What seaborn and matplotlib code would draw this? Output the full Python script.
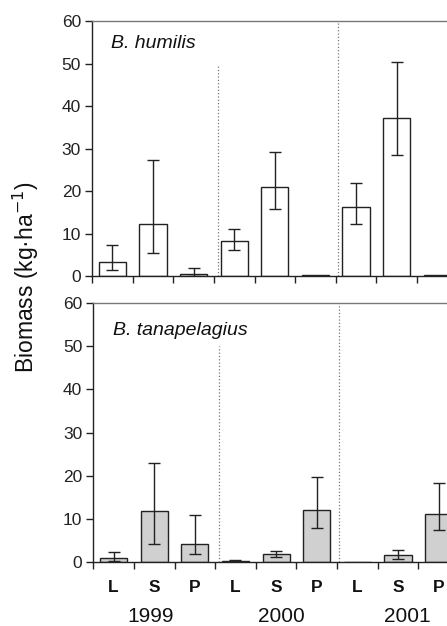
import matplotlib
matplotlib.use("Agg")
import matplotlib.pyplot as plt
import matplotlib.transforms as mtransforms
import numpy as np
import pandas as pd
import seaborn as sns

# data (kg/ha), order: L S P for 1999, 2000, 2001
groups = ["L", "S", "P"]
years = ["1999", "2000", "2001"]

humilis_mean = [3.3, 12.3, 0.6, 8.2, 21.0, 0.2, 16.3, 37.3, 0.2]
humilis_upper = [7.4, 27.4, 1.9, 11.1, 29.1, 0.2, 21.9, 50.4, 0.2]
humilis_lower = [1.5, 5.5, 0.0, 6.1, 15.7, 0.2, 12.2, 28.6, 0.2]

tana_mean = [0.9, 11.8, 4.3, 0.3, 1.8, 12.0, 0.1, 1.6, 11.1]
tana_upper = [2.3, 22.9, 10.9, 0.4, 2.6, 19.8, 0.1, 2.8, 18.3]
tana_lower = [0.3, 4.3, 2.0, 0.2, 1.3, 8.0, 0.1, 0.7, 7.4]

sns.set_theme(style="ticks")
plt.rcParams['font.family'] = ['Liberation Sans', 'DejaVu Sans']

fig = plt.figure(figsize=(4.47, 6.26), dpi=100)
ax_top = fig.add_axes([0.2058, 0.559, 0.818, 0.407])
ax_bot = fig.add_axes([0.2087, 0.102, 0.818, 0.414])

labels = [f"{g}{y}" for y in years for g in groups]


def draw_panel(ax, mean, lower, upper, color, title, title_y, show_labels):
    df = pd.DataFrame({"cat": labels, "val": mean})
    sns.barplot(data=df, x="cat", y="val", order=labels, color=color,
                edgecolor="#222222", linewidth=1.0, width=0.67,
                errorbar=None, saturation=1, ax=ax)
    m = np.array(mean)
    yerr = [m - np.array(lower), np.array(upper) - m]
    has_err = (yerr[0] + yerr[1]) > 0.05
    xs = np.arange(len(mean))
    ax.errorbar(xs[has_err], m[has_err],
                yerr=[yerr[0][has_err], yerr[1][has_err]],
                fmt="none", ecolor="#222222", elinewidth=1.0, capsize=4, capthick=1.0)

    ax.set_xlim(-0.5, 8.5)
    ax.set_ylim(0, 60)
    ax.set_yticks([0, 10, 20, 30, 40, 50, 60])
    ax.tick_params(axis="y", labelsize=12.5, length=5, width=1, colors="#222222", pad=3)
    ax.set_xticks(np.arange(-0.5, 8.5, 1.0))
    ax.set_xticklabels([])
    ax.tick_params(axis="x", length=5, width=1, colors="#222222")
    ax.set_xlabel("")
    ax.set_ylabel("")

    # dotted separators between years
    ax.plot([2.6, 2.6], [0, 50], ls=":", color="#777777", lw=0.9)
    ax.plot([5.56, 5.56], [0, 60], ls=":", color="#777777", lw=0.9)

    for side in ["left", "bottom"]:
        ax.spines[side].set_color("#222222")
        ax.spines[side].set_linewidth(1.0)
    ax.spines["top"].set_color("#777777")
    ax.spines["top"].set_linewidth(1.0)
    ax.spines["right"].set_visible(False)

    ax.text(0.053, title_y, title, transform=ax.transAxes, fontsize=14,
            style="italic", ha="left", va="baseline", color="#111111")

    if show_labels:
        trans = mtransforms.blended_transform_factory(ax.transData, ax.transAxes)
        for i, lab in enumerate(labels):
            ax.text(i, -0.097, lab[0], transform=trans, ha="center", va="center",
                    fontsize=12.5, fontweight="bold", color="#111111")
        for x, y in zip([0.91, 4.14, 7.23], years):
            ax.text(x, -0.208, y, transform=trans, ha="center", va="center",
                    fontsize=15, color="#111111")


draw_panel(ax_top, humilis_mean, humilis_lower, humilis_upper, "white", "B. humilis", 0.897, False)
draw_panel(ax_bot, tana_mean, tana_lower, tana_upper, "#d0d0d0", "B. tanapelagius", 0.878, True)

fig.text(0.058, 0.557, "Biomass (kg\u00b7ha$^{-1}$)", rotation=90, ha="center", va="center",
         fontsize=16.5, color="#111111")

fig.savefig("out.png", dpi=100)
